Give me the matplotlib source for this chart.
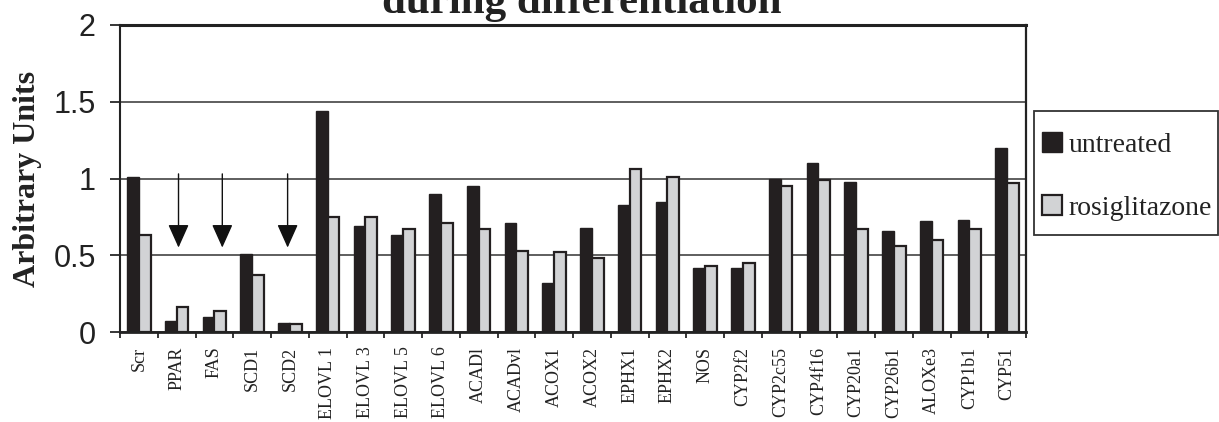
import numpy as np
import matplotlib
matplotlib.use("Agg")
import matplotlib.pyplot as plt
from matplotlib.patches import Rectangle

# Gene expression levels (arbitrary units) for the two conditions
genes = ["Scr", "PPAR", "FAS", "SCD1", "SCD2", "ELOVL 1", "ELOVL 3", "ELOVL 5",
         "ELOVL 6", "ACADl", "ACADvl", "ACOX1", "ACOX2", "EPHX1", "EPHX2", "NOS",
         "CYP2f2", "CYP2c55", "CYP4f16", "CYP20a1", "CYP26b1", "ALOXe3", "CYP1b1",
         "CYP51"]
untreated = [1.01, 0.07, 0.10, 0.51, 0.06, 1.44, 0.69, 0.63, 0.90, 0.95, 0.71, 0.32,
             0.68, 0.83, 0.85, 0.42, 0.42, 1.00, 1.10, 0.98, 0.66, 0.72, 0.73, 1.20]
rosiglitazone = [0.63, 0.16, 0.14, 0.37, 0.05, 0.75, 0.75, 0.67, 0.71, 0.67, 0.53, 0.52,
                 0.48, 1.06, 1.01, 0.43, 0.45, 0.95, 0.99, 0.67, 0.56, 0.60, 0.67, 0.97]
series_names = ["untreated", "rosiglitazone"]
yticks = [0, 0.5, 1, 1.5, 2]
ytick_labels = ["0", "0.5", "1", "1.5", "2"]

# Genes marked with a downward arrow (strongly reduced expression)
arrow_genes = ["PPAR", "FAS", "SCD2"]
arrow_offsets = [0.05, 0.21, -0.06]

DARK = "#231f20"
LIGHT = "#d2d3d5"
SERIF = ["Liberation Serif", "DejaVu Serif"]
SANS = ["Liberation Sans", "DejaVu Sans"]

W, H = 1219, 422
fig = plt.figure(figsize=(W / 100, H / 100), dpi=100)
ax = fig.add_axes([120 / W, 1 - 332 / H, (1026 - 120) / W, (332 - 25) / H])

x = np.arange(len(genes))
w = 0.31
b1 = ax.bar(x - w / 2, untreated, w, color=DARK, edgecolor=DARK, linewidth=1.0,
            label=series_names[0], zorder=2)
b2 = ax.bar(x + w / 2, rosiglitazone, w, color=LIGHT, edgecolor=DARK, linewidth=1.6,
            label=series_names[1], zorder=2)

ax.set_xlim(-0.5, len(genes) - 0.5)
ax.set_ylim(0, 2)

# Horizontal gridlines
ax.set_axisbelow(True)
ax.yaxis.grid(True, color="#333333", linewidth=1.1)
ax.xaxis.grid(False)

# Y axis
ax.set_yticks(yticks)
ax.set_yticklabels(ytick_labels, fontfamily=SANS, fontsize=22, color="#222222")
ax.tick_params(axis="y", direction="out", length=7.5, width=1.1, pad=10)
ax.set_ylabel("Arbitrary Units", fontfamily=SERIF, fontweight="bold", fontsize=23,
              color="#222222", labelpad=8)

# X axis: tick marks between categories, labels at the centres
ax.set_xticks(x)
ax.set_xticklabels(genes, rotation=90, fontfamily=SERIF, fontsize=13,
                   va="top", ha="center", color="#222222")
ax.tick_params(axis="x", which="major", length=0, pad=10.5)
ax.set_xticks(np.arange(len(genes) + 1) - 0.5, minor=True)
ax.tick_params(axis="x", which="minor", direction="out", length=4, width=1.1)

for side, lw in [("left", 1.5), ("bottom", 2.0), ("top", 2.2), ("right", 1.6)]:
    ax.spines[side].set_linewidth(lw)
    ax.spines[side].set_color("#222222")

# Downward arrows
for g, off in zip(arrow_genes, arrow_offsets):
    gx = genes.index(g) + off
    ax.annotate("", xy=(gx, 0.55), xytext=(gx, 1.03),
                arrowprops=dict(arrowstyle="-|>,head_length=1.45,head_width=0.65",
                                mutation_scale=10, lw=1.0, color="#111111",
                                shrinkA=0, shrinkB=0))

# Legend entries, with a separately drawn box around them
leg = fig.legend(handles=[b1, b2], loc="upper left",
                 bbox_to_anchor=(1042 / W, 1 - 132 / H), bbox_transform=fig.transFigure,
                 borderaxespad=0, borderpad=0, frameon=False,
                 prop={"family": SERIF, "size": 20},
                 handlelength=0.72, handleheight=0.72, handletextpad=0.25,
                 labelspacing=1.35)
for t in leg.get_texts():
    t.set_color("#222222")
fig.patches.append(Rectangle((1034 / W, 1 - 235 / H), (1218 - 1034) / W, 124 / H,
                             transform=fig.transFigure, fill=False,
                             edgecolor="#333333", linewidth=1.3))

# Title (top portion runs off the canvas)
fig.text(582 / W, 1 - 13 / H, "during differentiation", ha="center", va="baseline",
         fontfamily=SERIF, fontweight="bold", fontsize=31, color="#222222")

fig.savefig("out.png", dpi=100)
